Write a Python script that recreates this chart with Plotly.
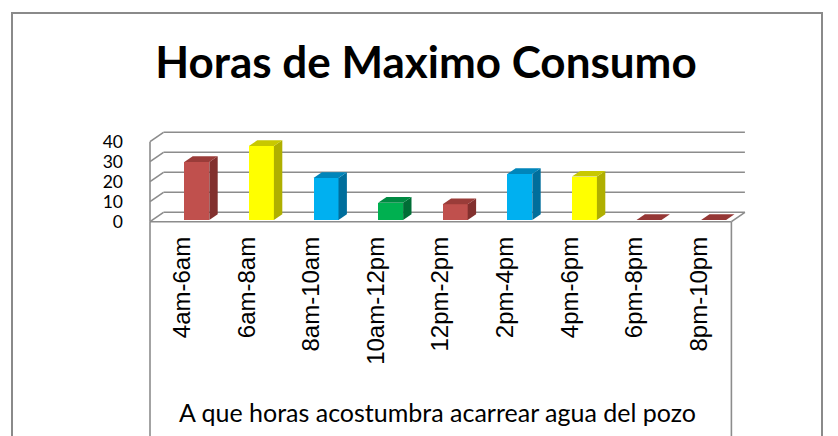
import plotly.graph_objects as go

# ---------------- data ----------------
categories = ["4am-6am", "6am-8am", "8am-10am", "10am-12pm", "12pm-2pm",
              "2pm-4pm", "4pm-6pm", "6pm-8pm", "8pm-10pm"]
values = [29, 37, 21, 8.6, 7.9, 23, 21.7, 0, 0]
y_ticks = [0, 10, 20, 30, 40]

front_colors = ["#C0504D", "#FFFF00", "#00B0F0", "#00B050", "#C0504D",
                "#00B0F0", "#FFFF00", "#C0504D", "#C0504D"]
side_colors = ["#82302E", "#AFAF00", "#006E9C", "#006E36", "#82302E",
               "#006E9C", "#AFAF00", "#82302E", "#82302E"]
top_colors = ["#9A3C39", "#C8C800", "#0085BA", "#008A42", "#9A3C39",
              "#0085BA", "#C8C800", "#953735", "#953735"]

title_text = "Horas de Maximo Consumo"
x_title_text = "A que horas acostumbra acarrear agua del pozo"

# ---------------- geometry (pixels -> data units) ----------------
W, H = 838, 436
PX_X = 64.6      # px per category slot
PX_Y = 2.0       # px per value unit
plot_left, plot_right = 140, 760
plot_top, plot_bottom = 100, 226
front_px = 221.7  # floor front edge

x0r = -0.5 - (150 - plot_left) / PX_X
x1r = x0r + (plot_right - plot_left) / PX_X
y0r = -(plot_bottom - front_px) / PX_Y
y1r = y0r + (plot_bottom - plot_top) / PX_Y

BAR_OFF = 2 / PX_X
BAR_W = 25 / PX_X
BAR_BASE = 1.7 / PX_Y
BDX, BDY = 8.4 / PX_X, 5.7 / PX_Y
WDX, WDY = 13.5 / PX_X, 9.4 / PX_Y

n = len(categories)
idx = list(range(n))
ymax = max(y_ticks)


def xpaper(px):
    return (px - plot_left) / (plot_right - plot_left)


def ypaper(py):
    return (plot_bottom - py) / (plot_bottom - plot_top)


def data_x_to_px(x):
    return plot_left + (x - x0r) * PX_X


fig = go.Figure()

# front faces
fig.add_trace(go.Bar(x=idx, y=values, base=BAR_BASE, width=BAR_W, offset=BAR_OFF,
                     marker=dict(color=front_colors, line=dict(width=0)),
                     hoverinfo="skip", showlegend=False))

# side and top faces
for i, v, sc, tc in zip(idx, values, side_colors, top_colors):
    xa = i + BAR_OFF
    xb = xa + BAR_W
    b = BAR_BASE
    t = b + v
    if v > 0:
        fig.add_trace(go.Scatter(
            x=[xb, xb + BDX, xb + BDX, xb, xb],
            y=[b, b + BDY, t + BDY, t, b],
            mode="lines", line=dict(width=0), fill="toself", fillcolor=sc,
            hoverinfo="skip", showlegend=False))
    fig.add_trace(go.Scatter(
        x=[xa, xb, xb + BDX, xa + BDX, xa],
        y=[t, t, t + BDY, t + BDY, t],
        mode="lines", line=dict(width=0), fill="toself", fillcolor=tc,
        hoverinfo="skip", showlegend=False))

# walls, floor, gridlines
grid_col = "#8C8C8C"
shapes = []
for v in y_ticks:
    shapes.append(dict(type="line", xref="x", yref="y", layer="below",
                       x0=-0.5 + WDX, x1=n - 0.5 + WDX, y0=v + WDY, y1=v + WDY,
                       line=dict(color=grid_col, width=1.6)))
    shapes.append(dict(type="line", xref="x", yref="y", layer="below",
                       x0=-0.5, x1=-0.5 + WDX, y0=v, y1=v + WDY,
                       line=dict(color=grid_col, width=1.6)))
# floor front and right edges
shapes.append(dict(type="line", xref="x", yref="y", layer="below",
                   x0=-0.5, x1=n - 0.5, y0=0, y1=0,
                   line=dict(color=grid_col, width=1.6)))
shapes.append(dict(type="line", xref="x", yref="y", layer="below",
                   x0=n - 0.5, x1=n - 0.5 + WDX, y0=0, y1=WDY,
                   line=dict(color=grid_col, width=1.6)))
# left wall front vertical
shapes.append(dict(type="line", xref="x", yref="y", layer="below",
                   x0=-0.5, x1=-0.5, y0=0, y1=ymax,
                   line=dict(color=grid_col, width=1.6)))
# plot-area box sides going down
for xd in (-0.5, n - 0.5):
    px = data_x_to_px(xd)
    shapes.append(dict(type="line", xref="paper", yref="paper",
                       x0=xpaper(px), x1=xpaper(px),
                       y0=ypaper(front_px), y1=ypaper(H + 20),
                       line=dict(color=grid_col, width=1.6)))
# outer chart border
shapes.append(dict(type="rect", xref="paper", yref="paper",
                   x0=xpaper(12), x1=xpaper(822), y0=ypaper(13), y1=ypaper(H + 20),
                   line=dict(color="#8A8A8A", width=2), fillcolor="rgba(0,0,0,0)"))

fig.update_layout(
    width=W, height=H,
    margin=dict(l=plot_left, r=W - plot_right, t=plot_top, b=H - plot_bottom, autoexpand=False),
    paper_bgcolor="white", plot_bgcolor="white",
    shapes=shapes,
    bargap=0,
    title=dict(text="<b>" + title_text + "</b>", x=426 / W, xanchor="center",
               y=1 - 63 / H, yanchor="middle", yref="container",
               font=dict(family="Lato", size=44, color="black")),
    xaxis=dict(range=[x0r, x1r], tickmode="array", tickvals=idx, ticktext=categories,
               tickangle=-90, tickfont=dict(family="Liberation Sans", size=24, color="black"),
               showgrid=False, zeroline=False, showline=False, ticks="",
               ticklabelstandoff=5, automargin=False, fixedrange=True),
    yaxis=dict(range=[y0r, y1r], tickmode="array", tickvals=y_ticks,
               ticktext=[str(v) for v in y_ticks],
               tickfont=dict(family="Lato", size=17.5, color="black"),
               showgrid=False, zeroline=False, showline=False, ticks="",
               ticklabelstandoff=16, automargin=False, fixedrange=True),
    annotations=[dict(text=x_title_text, xref="paper", yref="paper",
                      x=xpaper(437), y=ypaper(412), xanchor="center", yanchor="middle",
                      showarrow=False, font=dict(family="Lato", size=25, color="black"))],
)

fig.write_html("out.html", config={"displayModeBar": False},
               post_script="document.body.style.margin='0';document.body.style.overflow='hidden';")
